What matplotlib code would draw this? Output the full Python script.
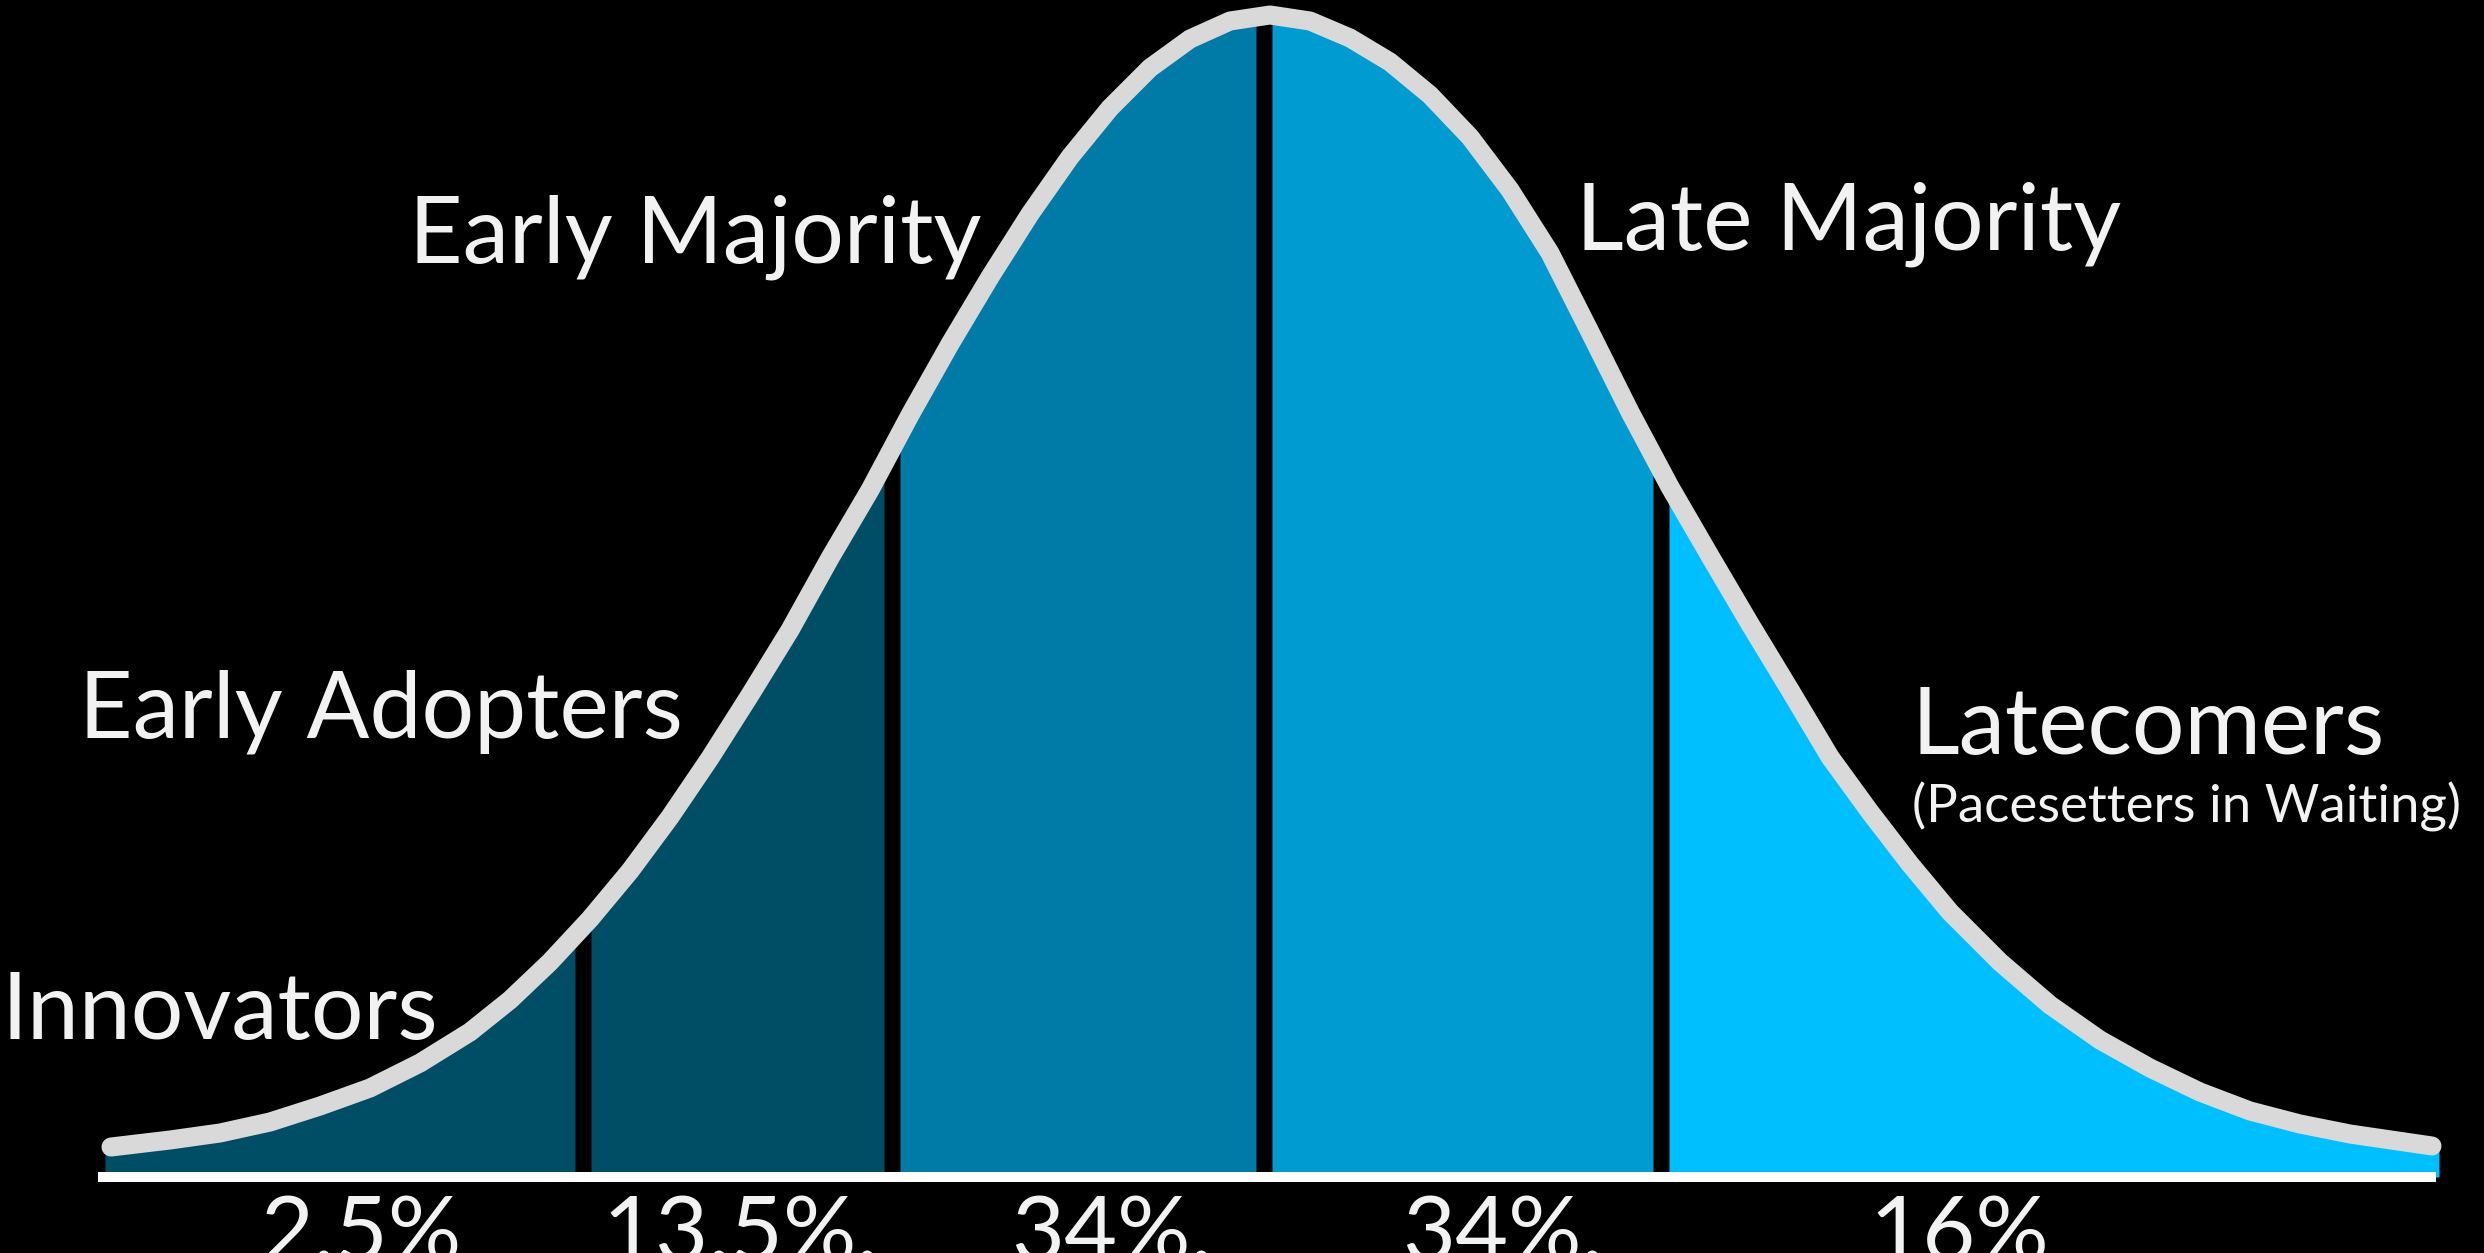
import numpy as np
import matplotlib
matplotlib.use("Agg")
import matplotlib.pyplot as plt

# bell outline, in image pixels (y grows downward)
CURVE_X = [111, 170, 220, 270, 320, 370, 420, 470, 510, 550, 590, 630, 670, 710,
           750, 790, 830, 870, 910, 950, 990, 1030, 1070, 1110, 1150, 1190, 1230,
           1270, 1310, 1350, 1390, 1430, 1470, 1510, 1550, 1590, 1630, 1670, 1710,
           1750, 1790, 1830, 1870, 1910, 1950, 2000, 2050, 2100, 2150, 2200, 2250,
           2300, 2350, 2432]
CURVE_Y = [1147, 1140, 1133, 1122, 1106, 1088, 1063, 1032, 1000, 962, 919, 871, 817,
           758, 695, 630, 558, 490, 415, 344, 277, 214, 157, 108, 68, 39, 21,
           15, 21, 38, 62, 95, 137, 190, 253, 332, 412, 487, 556,
           624, 690, 757, 812, 864, 912, 962, 1005, 1040, 1068, 1092, 1111,
           1124, 1134, 1146]

# segment edges along x (left end, separators, right end)
EDGES = [105, 583, 892, 1264, 1661, 2439]
SEGMENTS = ["Innovators", "Early Adopters", "Early Majority", "Late Majority", "Latecomers"]
SHARES = ["2.5%", "13.5%.", "34%.", "34%.", "16%"]
SUBTITLE = "(Pacesetters in Waiting)"

COLORS = ["#004D66", "#004D66", "#007BA7", "#009CD1", "#00BFFF"]
TEXT = "#F2F2F2"
FONT = ["Lato", "DejaVu Sans"]

W, H = 2484, 1253
BASE = 1177


def main():
    fig = plt.figure(figsize=(W / 100, H / 100), dpi=100, facecolor="black")
    ax = fig.add_axes([0, 0, 1, 1])
    ax.set_facecolor("black")
    ax.set_xlim(0, W)
    ax.set_ylim(H, 0)
    ax.axis("off")

    cx = np.array(CURVE_X, float)
    cy = np.array(CURVE_Y, float)
    gap = 8
    for i, col in enumerate(COLORS):
        a = EDGES[i] + (gap if i > 0 else 0)
        b = EDGES[i + 1] - (gap if i < len(COLORS) - 1 else 0)
        inside = (cx > a) & (cx < b)
        xs = np.concatenate([[a], cx[inside], [b]])
        ys = np.concatenate([[np.interp(a, cx, cy)], cy[inside], [np.interp(b, cx, cy)]])
        ax.fill_between(xs, ys, BASE, color=col, lw=0, zorder=1)

    ax.plot(cx, cy, color="#D9D9D9", lw=13.7, solid_capstyle="round",
            solid_joinstyle="round", zorder=3)
    ax.plot([98, 2436], [BASE, BASE], color="white", lw=7.2,
            solid_capstyle="butt", zorder=4)

    big = dict(color=TEXT, fontsize=67, family=FONT, va="baseline", ha="left", zorder=5)
    ax.text(2, 1039, SEGMENTS[0], **big)
    ax.text(79, 738, SEGMENTS[1], **big)
    ax.text(409, 263, SEGMENTS[2], **big)
    ax.text(1576, 250, SEGMENTS[3], **big)
    ax.text(1912, 754, SEGMENTS[4], **big)
    ax.text(1912, 822, SUBTITLE, ha="left", color=TEXT, fontsize=38, family=FONT,
            va="baseline", zorder=5)

    share_x = [261, 602, 1011, 1402, 1869]
    for x, s in zip(share_x, SHARES):
        ax.text(x, 1195, s, ha="left", va="top", color=TEXT, fontsize=66,
                family=FONT, zorder=5)

    fig.savefig("out.png", dpi=100, facecolor="black")


if __name__ == "__main__":
    main()
